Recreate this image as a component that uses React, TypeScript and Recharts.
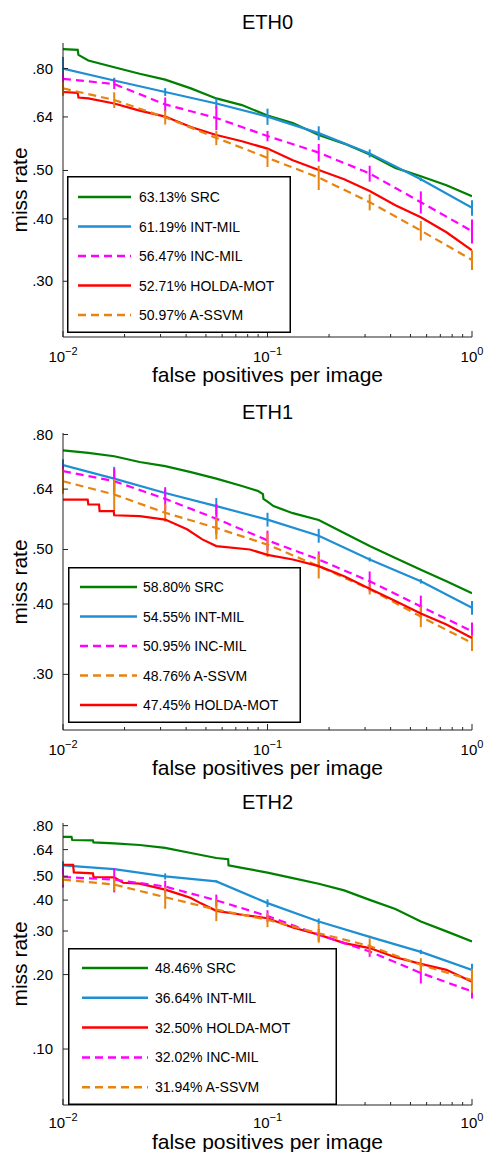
import React from "react"
import { LineChart, Line, XAxis, YAxis, ErrorBar } from "recharts"

const FONT = '"Liberation Sans", Arial, Helvetica, sans-serif'
const W = 487

// fppi positions of the error-barred curves
const BAR_FPPI = [0.01, 0.0178, 0.0316, 0.0562, 0.1, 0.178, 0.316, 0.562, 1]
const X_TICKS = [0.01, 0.02, 0.03, 0.04, 0.05, 0.06, 0.07, 0.08, 0.09, 0.1, 0.2, 0.3, 0.4, 0.5, 0.6, 0.7, 0.8, 0.9, 1]
const X_MAJOR_EXP: Record<string, string> = { "0.01": "\u22122", "0.1": "\u22121", "1": "0" }
const Y_TICKS_HI = [0.3, 0.4, 0.5, 0.64, 0.8]
const Y_TICKS_LO = [0.1, 0.2, 0.3, 0.4, 0.5, 0.64, 0.8]

const COLORS = { SRC: "#008000", INT: "#1f8fd4", INC: "#ff00ff", HOLDA: "#ff0000", ASSVM: "#e8830f" }

type Pt = [number, number]

/* ---------- ETH0 ---------- */
const eth0Src: Pt[] = [[0.01, 0.875], [0.0118, 0.872], [0.0119, 0.852], [0.0133, 0.83], [0.0178, 0.805], [0.0237, 0.781], [0.0316, 0.76], [0.0422, 0.73], [0.0562, 0.697], [0.075, 0.676], [0.1, 0.644], [0.133, 0.622], [0.178, 0.589], [0.237, 0.566], [0.316, 0.538], [0.422, 0.506], [0.562, 0.487], [0.75, 0.467], [1, 0.444]]
const eth0Holda: Pt[] = [[0.01, 0.718], [0.0118, 0.715], [0.0119, 0.7], [0.0133, 0.697], [0.0178, 0.681], [0.0237, 0.659], [0.0316, 0.641], [0.0422, 0.611], [0.0562, 0.589], [0.075, 0.572], [0.1, 0.553], [0.133, 0.524], [0.178, 0.501], [0.237, 0.48], [0.316, 0.455], [0.422, 0.426], [0.562, 0.403], [0.75, 0.376], [1, 0.346]]
const eth0Int = [0.8, 0.757, 0.718, 0.681, 0.641, 0.594, 0.541, 0.48, 0.421]
const eth0IntErr = [0.044, 0.01, 0.013, 0.016, 0.024, 0.019, 0.01, 0.004, 0.015]
const eth0Inc = [0.763, 0.745, 0.678, 0.637, 0.586, 0.543, 0.493, 0.432, 0.378]
const eth0IncErr = [0.018, 0.017, 0.022, 0.035, 0.014, 0.022, 0.018, 0.022, 0.021]
const eth0Assvm = [0.73, 0.692, 0.639, 0.581, 0.53, 0.484, 0.432, 0.379, 0.331]
const eth0AssvmErr = [0.024, 0.025, 0.021, 0.019, 0.022, 0.027, 0.016, 0.017, 0.015]

/* ---------- ETH1 ---------- */
const eth1Src: Pt[] = [[0.01, 0.75], [0.0133, 0.742], [0.0178, 0.732], [0.0237, 0.715], [0.0316, 0.703], [0.0422, 0.686], [0.0562, 0.668], [0.075, 0.648], [0.09, 0.635], [0.095, 0.627], [0.0955, 0.615], [0.1, 0.608], [0.107, 0.597], [0.133, 0.58], [0.178, 0.564], [0.237, 0.535], [0.316, 0.507], [0.422, 0.483], [0.562, 0.46], [0.75, 0.439], [1, 0.418]]
const eth1Holda: Pt[] = [[0.01, 0.613], [0.0132, 0.613], [0.0133, 0.601], [0.015, 0.601], [0.0151, 0.585], [0.0177, 0.585], [0.0178, 0.575], [0.0237, 0.573], [0.0316, 0.565], [0.0404, 0.543], [0.048, 0.521], [0.0562, 0.507], [0.082, 0.5], [0.1, 0.489], [0.133, 0.48], [0.178, 0.467], [0.237, 0.448], [0.316, 0.426], [0.422, 0.405], [0.562, 0.385], [0.75, 0.368], [1, 0.348]]
const eth1Int = [0.706, 0.668, 0.63, 0.597, 0.565, 0.529, 0.48, 0.439, 0.394]
const eth1IntErr = [0.017, 0.033, 0.008, 0.02, 0.016, 0.015, 0.004, 0.004, 0.011]
const eth1Inc = [0.689, 0.661, 0.615, 0.567, 0.519, 0.48, 0.439, 0.396, 0.358]
const eth1IncErr = [0.017, 0.035, 0.03, 0.035, 0.021, 0.016, 0.018, 0.018, 0.013]
const eth1Assvm = [0.661, 0.626, 0.581, 0.546, 0.51, 0.467, 0.425, 0.38, 0.341]
const eth1AssvmErr = [0.033, 0.041, 0.021, 0.025, 0.025, 0.023, 0.009, 0.016, 0.011]

/* ---------- ETH2 ---------- */
const eth2Src: Pt[] = [[0.01, 0.72], [0.011, 0.72], [0.0111, 0.7], [0.014, 0.698], [0.0141, 0.685], [0.0178, 0.678], [0.0237, 0.668], [0.0316, 0.65], [0.0422, 0.62], [0.0562, 0.592], [0.0642, 0.585], [0.0645, 0.553], [0.075, 0.54], [0.1, 0.517], [0.133, 0.491], [0.178, 0.466], [0.237, 0.438], [0.316, 0.401], [0.422, 0.368], [0.562, 0.328], [0.75, 0.299], [1, 0.272]]
const eth2Holda: Pt[] = [[0.01, 0.556], [0.0112, 0.556], [0.0113, 0.518], [0.014, 0.513], [0.0141, 0.496], [0.0178, 0.494], [0.0197, 0.47], [0.0237, 0.466], [0.0316, 0.441], [0.038, 0.42], [0.0422, 0.408], [0.047, 0.389], [0.0562, 0.362], [0.075, 0.349], [0.1, 0.338], [0.133, 0.31], [0.178, 0.29], [0.237, 0.268], [0.316, 0.256], [0.422, 0.235], [0.562, 0.221], [0.75, 0.209], [1, 0.187]]
const eth2Int = [0.553, 0.534, 0.499, 0.476, 0.389, 0.328, 0.284, 0.247, 0.209]
const eth2IntErr = [0.021, 0.005, 0.014, 0.004, 0.014, 0.009, 0.003, 0.005, 0.012]
const eth2Inc = [0.496, 0.484, 0.454, 0.399, 0.345, 0.29, 0.248, 0.203, 0.171]
const eth2IncErr = [0.046, 0.054, 0.025, 0.022, 0.019, 0.016, 0.012, 0.019, 0.011]
const eth2Assvm = [0.484, 0.462, 0.411, 0.366, 0.333, 0.294, 0.261, 0.219, 0.19]
const eth2AssvmErr = [0.023, 0.026, 0.042, 0.037, 0.022, 0.025, 0.019, 0.014, 0.021]

const fromPairs = (pts: Pt[]) => pts.map(([x, y]) => ({ x, y }))
const fromBars = (ys: number[], errs: number[]) => BAR_FPPI.map((x, i) => ({ x, y: ys[i], e: errs[i] }))

const PANELS = [
  {
    title: "ETH0", top: 0, height: 390, plotBottom: 337, tickGap: 25, xLabelGap: 26, xLabelLH: 24, yDomain: [0.232, 0.9], yTicks: Y_TICKS_HI,
    legend: { left: 67, top: 176, width: 224, height: 157, row0: 21, step: 29.5, l1: 11, l2: 64, tx: 72 },
    series: [
      { label: "63.13% SRC", color: COLORS.SRC, dashed: false, err: false, data: fromPairs(eth0Src) },
      { label: "61.19% INT-MIL", color: COLORS.INT, dashed: false, err: true, data: fromBars(eth0Int, eth0IntErr) },
      { label: "56.47% INC-MIL", color: COLORS.INC, dashed: true, err: true, data: fromBars(eth0Inc, eth0IncErr) },
      { label: "52.71% HOLDA-MOT", color: COLORS.HOLDA, dashed: false, err: false, data: fromPairs(eth0Holda) },
      { label: "50.97% A-SSVM", color: COLORS.ASSVM, dashed: true, err: true, data: fromBars(eth0Assvm, eth0AssvmErr) },
    ],
  },
  {
    title: "ETH1", top: 390, height: 390, plotBottom: 340, tickGap: 25, xLabelGap: 26, xLabelLH: 24, yDomain: [0.239, 0.805], yTicks: Y_TICKS_HI,
    legend: { left: 68, top: 177, width: 233, height: 156, row0: 20, step: 29.5, l1: 12, l2: 69, tx: 75 },
    series: [
      { label: "58.80% SRC", color: COLORS.SRC, dashed: false, err: false, data: fromPairs(eth1Src) },
      { label: "54.55% INT-MIL", color: COLORS.INT, dashed: false, err: true, data: fromBars(eth1Int, eth1IntErr) },
      { label: "50.95% INC-MIL", color: COLORS.INC, dashed: true, err: true, data: fromBars(eth1Inc, eth1IncErr) },
      { label: "48.76% A-SSVM", color: COLORS.ASSVM, dashed: true, err: true, data: fromBars(eth1Assvm, eth1AssvmErr) },
      { label: "47.45% HOLDA-MOT", color: COLORS.HOLDA, dashed: false, err: false, data: fromPairs(eth1Holda) },
    ],
  },
  {
    title: "ETH2", top: 780, height: 372, plotBottom: 325, tickGap: 23, xLabelGap: 28, xLabelLH: 18, yDomain: [0.0594, 0.82], yTicks: Y_TICKS_LO,
    legend: { left: 68, top: 168, width: 269, height: 157, row0: 20, step: 29.8, l1: 14, l2: 80, tx: 87 },
    series: [
      { label: "48.46% SRC", color: COLORS.SRC, dashed: false, err: false, data: fromPairs(eth2Src) },
      { label: "36.64% INT-MIL", color: COLORS.INT, dashed: false, err: true, data: fromBars(eth2Int, eth2IntErr) },
      { label: "32.50% HOLDA-MOT", color: COLORS.HOLDA, dashed: false, err: false, data: fromPairs(eth2Holda) },
      { label: "32.02% INC-MIL", color: COLORS.INC, dashed: true, err: true, data: fromBars(eth2Inc, eth2IncErr) },
      { label: "31.94% A-SSVM", color: COLORS.ASSVM, dashed: true, err: true, data: fromBars(eth2Assvm, eth2AssvmErr) },
    ],
  },
]

const PLOT_LEFT = 63
const PLOT_RIGHT = 472
const PLOT_TOP = 43
const X_AXIS_H = 40

/* eslint-disable @typescript-eslint/no-explicit-any */
function XTick({ x, payload, plotBottom, tickGap }: any) {
  const exp = X_MAJOR_EXP[String(payload.value)]
  const len = exp ? 6 : 3
  return (
    <g>
      <line x1={x} x2={x} y1={plotBottom} y2={plotBottom - len} stroke="#222" strokeWidth={1} />
      {exp && (
        <text x={x} y={plotBottom + tickGap} textAnchor="middle" fontSize={15} fontFamily={FONT} fill="#000">
          10<tspan dy={-7} fontSize={11}>{exp}</tspan>
        </text>
      )}
    </g>
  )
}

function YTick({ y, payload }: any) {
  return (
    <g>
      <line x1={PLOT_LEFT} x2={PLOT_LEFT + 5} y1={y} y2={y} stroke="#222" strokeWidth={1} />
      <text x={53} y={y} dy={5} textAnchor="end" fontSize={15} fontFamily={FONT} fill="#000">
        {Number(payload.value).toFixed(2).slice(1)}
      </text>
    </g>
  )
}

function Panel({ p }: { p: any }) {
  const lg = p.legend
  const midY = (PLOT_TOP + p.plotBottom) / 2
  return (
    <div style={{ position: "absolute", left: 0, top: p.top, width: W, height: p.height }}>
      <LineChart
        width={W}
        height={p.height}
        margin={{ top: PLOT_TOP, right: W - PLOT_RIGHT, bottom: p.height - p.plotBottom - X_AXIS_H, left: 13 }}
      >
        <XAxis
          dataKey="x" type="number" scale="log" domain={[0.01, 1]} allowDataOverflow
          ticks={X_TICKS} interval={0} height={X_AXIS_H}
          axisLine={{ stroke: "#222" }} tickLine={false}
          tick={(t: any) => <XTick {...t} plotBottom={p.plotBottom} tickGap={p.tickGap} />}
        />
        <YAxis
          type="number" scale="log" domain={p.yDomain} allowDataOverflow
          ticks={p.yTicks} interval={0} width={50}
          axisLine={{ stroke: "#222" }} tickLine={false}
          tick={(t: any) => <YTick {...t} />}
        />
        {p.series.map((s: any) => (
          <Line
            key={s.label} data={s.data} dataKey="y" type="linear"
            stroke={s.color} strokeWidth={2.2} strokeDasharray={s.dashed ? "8 5" : undefined}
            dot={false} activeDot={false} isAnimationActive={false}
          >
            {s.err && <ErrorBar dataKey="e" direction="y" width={0} stroke={s.color} strokeWidth={2} />}
          </Line>
        ))}
      </LineChart>

      {/* title */}
      <div style={{ position: "absolute", left: PLOT_LEFT, width: PLOT_RIGHT - PLOT_LEFT, top: 10, textAlign: "center", fontFamily: FONT, fontSize: 20, lineHeight: "24px" }}>
        {p.title}
      </div>
      {/* x label */}
      <div style={{ position: "absolute", left: PLOT_LEFT, width: PLOT_RIGHT - PLOT_LEFT, top: p.plotBottom + p.xLabelGap, textAlign: "center", fontFamily: FONT, fontSize: 21, lineHeight: `${p.xLabelLH}px`, whiteSpace: "nowrap" }}>
        false positives per image
      </div>
      {/* y label */}
      <div style={{ position: "absolute", left: 20 - 100, top: midY - 12, width: 200, height: 24, transform: "rotate(-90deg)", textAlign: "center", fontFamily: FONT, fontSize: 21, lineHeight: "24px" }}>
        miss rate
      </div>
      {/* legend */}
      <svg style={{ position: "absolute", left: lg.left, top: lg.top }} width={lg.width} height={lg.height}>
        <rect x={0.75} y={0.75} width={lg.width - 1.5} height={lg.height - 1.5} fill="#fff" stroke="#000" strokeWidth={1.5} />
        {p.series.map((s: any, i: number) => {
          const y = lg.row0 + i * lg.step
          return (
            <g key={s.label}>
              <line x1={lg.l1} x2={lg.l2} y1={y} y2={y} stroke={s.color} strokeWidth={2.5} strokeDasharray={s.dashed ? "8 5" : undefined} />
              <text x={lg.tx} y={y} dy={5} fontSize={14} fontFamily={FONT} fill="#000">{s.label}</text>
            </g>
          )
        })}
      </svg>
    </div>
  )
}

export default function App() {
  return (
    <div style={{ position: "absolute", left: 0, top: 0, width: W, height: 1152, background: "#fff", overflow: "hidden" }}>
      {PANELS.map((p) => (
        <Panel key={p.title} p={p} />
      ))}
    </div>
  )
}
